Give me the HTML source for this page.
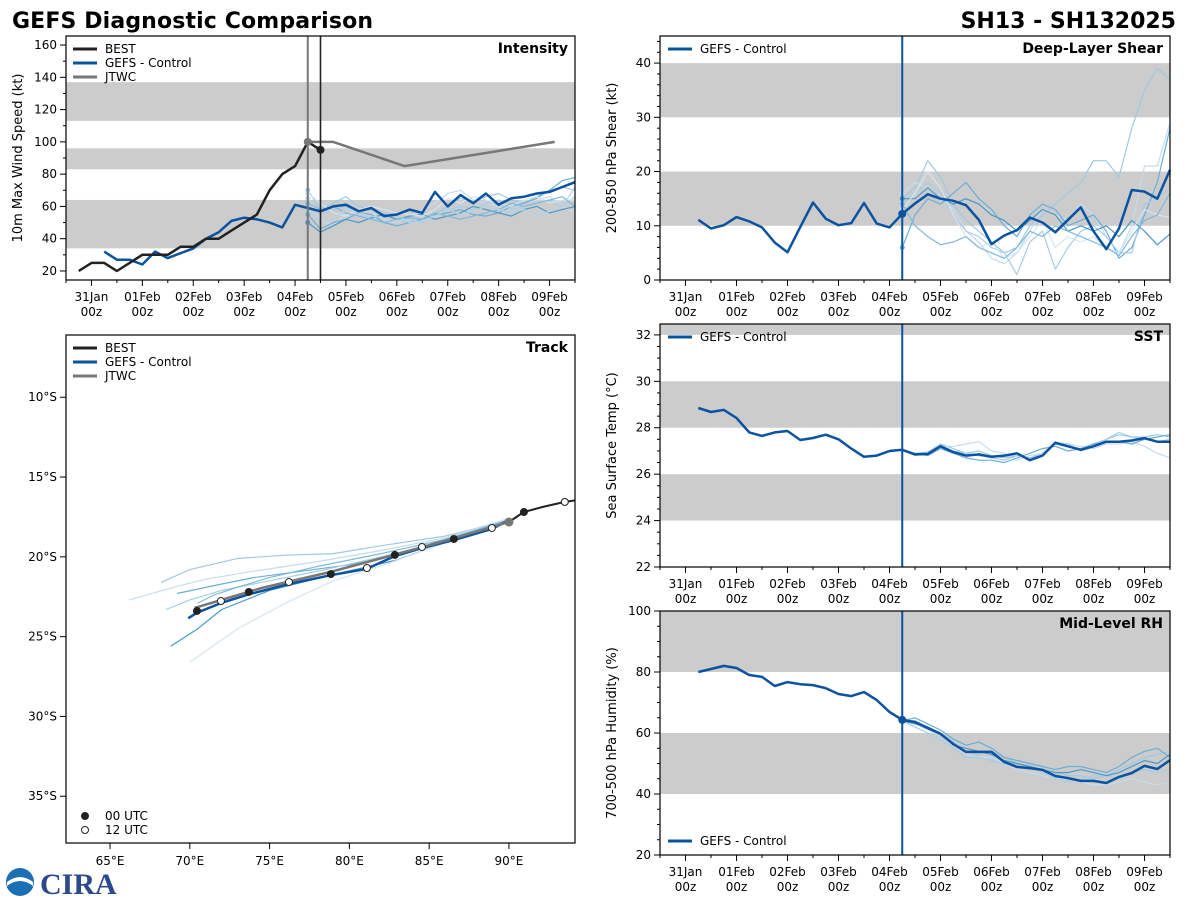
<!DOCTYPE html>
<html><head><meta charset="utf-8">
<style>
html,body{margin:0;padding:0;background:#fff;}
svg{display:block;font-family:"DejaVu Sans","Liberation Sans",sans-serif;}
</style></head>
<body>
<svg id="fig" width="1200" height="900" viewBox="0 0 1200 900" xmlns="http://www.w3.org/2000/svg">
<text x="12" y="28" font-size="22" font-weight="bold" textLength="361">GEFS Diagnostic Comparison</text>
<text x="1176" y="28" font-size="22" font-weight="bold" text-anchor="end">SH13 - SH132025</text>
<g>
<circle cx="20" cy="882" r="14" fill="#1a6fb5"/>
<path d="M7,882 Q20,872 33,882 L33,886 Q20,876 7,886Z" fill="#fff"/>
<text x="40" y="894" font-size="30" font-weight="bold" fill="#2b4a8b" font-family="Liberation Serif,serif">CIRA</text>
</g>
</svg>
<script>
const NS='http://www.w3.org/2000/svg';
const svg=document.getElementById('fig');
// ---------- DATA ----------
const dateLabels=['31Jan','01Feb','02Feb','03Feb','04Feb','05Feb','06Feb','07Feb','08Feb','09Feb'];
const bestStart=-0.25;
const bestInt=[20,25,25,20,25,30,30,30,35,35,40,40,45,50,55,70,80,85,100,95];
const ctrlStart=0.25;
const ctrlInt=[32,27,27,24,32,28,31,34,40,44,51,53,52,50,47,61,59,57,60,61,57,59,54,55,58,56,69,60,67,62,68,61,65,66,68,69,72,75];
const jtwcDays=[4.25,4.75,6.15,9.1];
const jtwcInt=[100,100,85,100];
const ensStart=4.25;
const ensInt=[
[70,58,62,66,60,58,55,52,50,52,55,60,65,62,66,68,64,62,66,70,72,70],
[65,52,48,55,58,56,52,50,54,58,62,68,70,64,62,60,58,62,64,66,60,56],
[55,46,50,52,56,55,50,48,50,52,55,56,58,55,54,56,60,62,65,70,76,78],
[60,55,58,60,54,52,56,54,52,50,56,58,60,58,62,64,58,60,62,64,60,66],
[50,44,48,52,50,53,55,52,54,55,52,54,56,60,58,56,54,58,60,56,58,60],
[68,62,56,54,58,60,58,56,55,54,58,65,62,66,64,62,60,64,66,62,64,64],
[62,58,60,56,54,52,50,52,53,52,56,54,52,54,56,58,62,60,62,64,66,60],
[58,50,52,58,56,54,53,55,50,51,54,58,55,57,60,58,56,58,54,57,60,72]];
const ctrlShear=[11.1,9.5,10.1,11.6,10.8,9.7,6.9,5.1,9.8,14.3,11.3,10.1,10.5,14.2,10.4,9.7,12.2,14.1,15.8,15.0,14.6,13.8,11.1,6.6,8.2,9.2,11.5,10.6,8.8,11.1,13.4,9.0,5.7,9.5,16.6,16.3,15.0,20.3];
const ensShear=[
[15,17,22,19,14,11,9,7,5,6,10,12,14,16,18,22,22,19,28,35,39,37],
[16,18,17,15,13,9,7,4,3,5,9,13,12,11,14,12,8,5,10,21,21,29],
[6,12,15,14,16,18,15,13,10,8,12,14,13,10,11,12,9,4,6,12,18,28],
[14,16,18,16,12,9,8,6,5,1,7,9,2,6,9,10,8,5,5,14,15,17],
[15,15,17,15,14,15,14,12,11,9,11,13,12,9,10,9,10,8,11,9,6.5,8.5],
[13,16,20,17,12,8,6,7,4,5,8,11,6,8,7,8,6,5,9,13,12,11.5],
[14,10,8,6.5,7,8,6,5,4,6,9,8,10,9,8,7,6,4.5,8,11,12,16]];
const ctrlSST=[28.85,28.68,28.77,28.42,27.8,27.65,27.8,27.86,27.47,27.56,27.7,27.5,27.1,26.75,26.8,27.0,27.05,26.85,26.87,27.2,26.95,26.8,26.85,26.75,26.8,26.9,26.6,26.8,27.35,27.2,27.05,27.2,27.4,27.4,27.45,27.55,27.4,27.4];
const ensSST=[
[27.05,26.9,26.95,27.3,27.1,26.9,27.0,26.8,26.7,26.8,26.7,26.9,27.3,27.2,27.1,27.3,27.5,27.7,27.6,27.6,27.7,27.6],
[27.05,26.8,26.9,27.2,27.2,27.3,27.4,27.0,26.9,26.6,26.8,26.9,27.4,27.3,27.2,27.1,27.3,27.3,27.4,27.2,26.9,26.7],
[27.05,26.9,26.8,27.1,26.9,26.7,26.6,26.6,26.5,26.7,26.9,27.1,27.2,27.0,27.1,27.3,27.4,27.4,27.3,27.5,27.6,27.7],
[27.05,26.85,26.9,27.25,27.0,26.9,26.8,26.7,26.6,26.8,26.7,26.8,27.3,27.3,27.0,27.2,27.5,27.8,27.6,27.5,27.4,27.5]];
const ctrlRH=[80,81,82,81.3,79,78.4,75.4,76.7,76,75.7,74.7,72.8,72.1,73.4,70.8,66.9,64.3,63.6,61.6,59.7,56.4,53.8,53.8,53.8,50.5,48.9,48.5,47.9,45.9,45.2,44.3,44.3,43.6,45.6,46.9,49.2,48.2,51.1];
const ensRH=[
[64,64,62,60,57,54,53,54,52,50,49,48,47,46,46,45,46,48,50,52,53,54],
[64,63,61,59,56,53,52,52,50,48,47,46,45,45,44,43,43,44,45,44,43,44],
[64,65,63,61,58,56,57,55,52,51,50,49,48,49,49,48,47,49,52,54,55,52],
[64,62,60,58,55,52,52,51,50,49,49,47,45,44,45,46,46,45,47,48,47,48],
[64,63,62,60,56,55,54,53,51,50,49,48,47,47,48,47,46,47,49,51,50,53]];
const bestTrackLon=[94.2,93.5,92.2,90.94,90.0];
const bestTrackLat=[16.45,16.56,16.85,17.19,17.82];
const ctrlTrackLon=[90.0,88.93,86.55,84.55,82.85,81.1,78.84,76.21,73.7,71.95,70.45,69.9];
const ctrlTrackLat=[17.7,18.25,18.95,19.45,19.95,20.75,21.15,21.7,22.35,22.9,23.5,23.85];
const jtwcTrackLon=[90.0,86.5,82.9,78.8,74.5,70.3];
const jtwcTrackLat=[17.82,18.85,19.85,20.95,21.95,23.2];
const markLon=[88.93,86.55,84.55,82.85,81.1,78.84,76.21,73.7,71.95,70.45];
const markLat=[18.19,18.88,19.38,19.88,20.7,21.08,21.58,22.2,22.77,23.39];
const markFilled=[0,1,0,1,0,1,0,1,0,1];
const ensTrackLon=[
[90,86,82,79,76,73,70,68.2],
[90,86,82,78,74,71,69,66.2],
[90,86,83,80,77,74,71.5,69.2],
[90,86,82,78.5,75,72,70,68.5],
[90,86,83,79,75,72,70.5,68.8],
[90,86,82.5,79,76,73,71,70],
[90,86,82,78,75,73,71.5,70.5]];
const ensTrackLat=[
[17.7,18.7,19.3,19.8,19.9,20.1,20.8,21.6],
[17.6,18.8,19.6,20.3,20.9,21.4,21.9,22.7],
[17.7,18.9,19.9,20.5,20.9,21.3,21.8,22.3],
[17.8,19.0,20.0,20.8,21.5,22.1,22.7,23.3],
[17.8,19.1,20.2,21.1,22.1,23.3,24.5,25.6],
[17.8,19.1,20.4,21.5,22.9,24.5,25.9,26.6],
[17.7,18.9,19.8,20.6,21.3,21.9,22.4,22.9]];
const lonTicks=[65,70,75,80,85,90];
const latTicks=[10,15,20,25,30,35];
// ---------- HELPERS ----------
function el(tag,attrs,parent){const e=document.createElementNS(NS,tag);for(const k in attrs)e.setAttribute(k,attrs[k]);(parent||svg).appendChild(e);return e;}
function lin(d0,d1,r0,r1){return v=>r0+(v-d0)*(r1-r0)/(d1-d0);}
const ensCols=['#9ecae1','#c6dbef','#6baed6','#a6cde6','#4a98c9','#d4e6f4','#7fb8dc','#b3d4ea'];
const CTRL='#0b53a0';
function series(start,vals){return vals.map((v,i)=>[start+i*0.25,v]);}
function pathD(pts,X,Y){return pts.map((p,i)=>(i?'L':'M')+X(p[0]).toFixed(1)+','+Y(p[1]).toFixed(1)).join('');}
function timePanel(cfg){
  const g=el('g',{});
  
  
  const X=lin(-0.5,9.5,cfg.x0,cfg.x1),Y=lin(cfg.ymin,cfg.ymax,cfg.y1,cfg.y0);
  cfg.bands.forEach(b=>{const r=el('rect',{x:cfg.x0,y:Y(Math.min(b[1],cfg.ymax)),width:cfg.x1-cfg.x0,height:Y(b[0])-Y(Math.min(b[1],cfg.ymax)),fill:'#cccccc'},g);
    
    });
  for(let d=-0.5;d<=9.5;d+=0.5){const x=X(d);const major=Math.abs(d-Math.round(d))<1e-6;
    const t=el('line',{x1:x,x2:x,y1:cfg.y1,y2:cfg.y1+(major?6:3),stroke:'#000','stroke-width':1},g);
    
    }
  dateLabels.forEach((lab,i)=>{const x=X(i);
    const a=el('text',{x:x,y:cfg.y1+21,'font-size':12,'text-anchor':'middle'},g);a.textContent=lab;
    
    
    const b=el('text',{x:x,y:cfg.y1+36,'font-size':12,'text-anchor':'middle'},g);b.textContent='00z';
    
    });
  for(let v=Math.ceil(cfg.ymin/cfg.minor)*cfg.minor;v<=cfg.ymax+1e-6;v+=cfg.minor){const y=Y(v);
    const major=Math.abs(v/cfg.major-Math.round(v/cfg.major))<1e-6;
    const t=el('line',{x1:cfg.x0,x2:cfg.x0-(major?6:3),y1:y,y2:y,stroke:'#000'},g);
    
    
    if(major){const l=el('text',{x:cfg.x0-9,y:y+4,'font-size':12,'text-anchor':'end'},g);l.textContent=String(Math.round(v));
      
      }}
  const yt=el('text',{x:0,y:0,'font-size':13,'text-anchor':'middle',transform:`translate(${cfg.x0-44},${(cfg.y0+cfg.y1)/2}) rotate(-90)`},g);yt.textContent=cfg.ytitle;
  
  
  return {g,X,Y};
}
function addLine(g,pts,X,Y,col,w,name){const p=el('path',{d:pathD(pts,X,Y),fill:'none',stroke:col,'stroke-width':w,'stroke-linejoin':'round'},g);
  
  return p;}
function frame(g,cfg){const r=el('rect',{x:cfg.x0,y:cfg.y0,width:cfg.x1-cfg.x0,height:cfg.y1-cfg.y0,fill:'none',stroke:'#000','stroke-width':1.2},g);
  
  }
function title(g,cfg,txt){const t=el('text',{x:cfg.x1-7,y:cfg.y0+17,'font-size':14,'font-weight':'bold','text-anchor':'end'},g);t.textContent=txt;
  
  }
function legend(g,x,y,items){items.forEach((it,i)=>{const yy=y+i*14;
  const l=el('line',{x1:x,x2:x+24,y1:yy,y2:yy,stroke:it[1],'stroke-width':3},g);
  
  
  const t=el('text',{x:x+32,y:yy+4,'font-size':12},g);t.textContent=it[0];
  
  });}
function vline(g,X,cfg,d,col,w){const l=el('line',{x1:X(d),x2:X(d),y1:cfg.y0,y2:cfg.y1,stroke:col,'stroke-width':w},g);
  
  }
function dot(g,x,y,r,col,name){const c=el('circle',{cx:x,cy:y,r:r,fill:col},g);
  
  }
// ---------- INTENSITY ----------
(function(){const cfg={name:'intensity-panel',x0:66,x1:575,y0:36,y1:280,ymin:14.4,ymax:165.6,major:20,minor:10,ytitle:'10m Max Wind Speed (kt)',bands:[[34,64],[83,96],[113,137]]};
 const {g,X,Y}=timePanel(cfg);
 ensInt.forEach((m,i)=>{addLine(g,series(ensStart,m),X,Y,ensCols[i%ensCols.length],1.2,'ensemble-member-intensity');dot(g,X(ensStart),Y(m[0]),2.5,ensCols[i%ensCols.length],'ensemble-start-point');});
 addLine(g,series(ctrlStart,ctrlInt),X,Y,CTRL,2.5,'gefs-control-intensity');
 addLine(g,series(bestStart,bestInt),X,Y,'#222',2.5,'best-track-intensity');
 addLine(g,jtwcDays.map((d,i)=>[d,jtwcInt[i]]),X,Y,'#777',2.5,'jtwc-intensity');
 vline(g,X,cfg,4.25,'#777',2);vline(g,X,cfg,4.5,'#222',1.6);
 dot(g,X(4.25),Y(jtwcInt[0]),4,'#777','jtwc-init-point');
 dot(g,X(4.5),Y(bestInt[bestInt.length-1]),4,'#222','best-last-point');
 frame(g,cfg);title(g,cfg,'Intensity');
 legend(g,73,49,[['BEST','#222'],['GEFS - Control',CTRL],['JTWC','#777']]);})();
// ---------- SHEAR ----------
(function(){const cfg={name:'shear-panel',x0:660,x1:1170,y0:36,y1:280,ymin:0,ymax:45,major:10,minor:2,ytitle:'200-850 hPa Shear (kt)',bands:[[10,20],[30,40]]};
 const {g,X,Y}=timePanel(cfg);
 ensShear.forEach((m,i)=>{addLine(g,series(ensStart,m),X,Y,ensCols[i%ensCols.length],1.2,'ensemble-member-shear');dot(g,X(ensStart),Y(m[0]),2.5,ensCols[i%ensCols.length],'ensemble-start-point');});
 addLine(g,series(ctrlStart,ctrlShear),X,Y,CTRL,2.5,'gefs-control-shear');
 vline(g,X,cfg,4.25,CTRL,2);dot(g,X(4.25),Y(ctrlShear[16]),4,CTRL,'control-init-point');
 frame(g,cfg);title(g,cfg,'Deep-Layer Shear');legend(g,668,49,[['GEFS - Control',CTRL]]);})();
// ---------- SST ----------
(function(){const cfg={name:'sst-panel',x0:660,x1:1170,y0:324,y1:567,ymin:22,ymax:32.47,major:2,minor:0.5,ytitle:'Sea Surface Temp (°C)',bands:[[24,26],[28,30],[32,33]]};
 const {g,X,Y}=timePanel(cfg);
 ensSST.forEach((m,i)=>addLine(g,series(ensStart,m),X,Y,ensCols[i%ensCols.length],1.2,'ensemble-member-sst'));
 addLine(g,series(ctrlStart,ctrlSST),X,Y,CTRL,2.5,'gefs-control-sst');
 vline(g,X,cfg,4.25,CTRL,2);
 frame(g,cfg);title(g,cfg,'SST');legend(g,668,337,[['GEFS - Control',CTRL]]);})();
// ---------- RH ----------
(function(){const cfg={name:'rh-panel',x0:660,x1:1170,y0:611,y1:855,ymin:20,ymax:100,major:20,minor:5,ytitle:'700-500 hPa Humidity (%)',bands:[[40,60],[80,100]]};
 const {g,X,Y}=timePanel(cfg);
 ensRH.forEach((m,i)=>addLine(g,series(ensStart,m),X,Y,ensCols[i%ensCols.length],1.2,'ensemble-member-rh'));
 addLine(g,series(ctrlStart,ctrlRH),X,Y,CTRL,2.5,'gefs-control-rh');
 vline(g,X,cfg,4.25,CTRL,2);dot(g,X(4.25),Y(ctrlRH[16]),4,CTRL,'control-init-point');
 frame(g,cfg);title(g,cfg,'Mid-Level RH');legend(g,668,841,[['GEFS - Control',CTRL]]);})();
// ---------- TRACK ----------
(function(){const cfg={x0:66,x1:575,y0:335,y1:843};
 const g=el('g',{});
 
 
 const X=lin(62.24,94.14,cfg.x0,cfg.x1),Y=lin(6.1,37.93,cfg.y0,cfg.y1);
 const cp=el('clipPath',{id:'trk'},g);el('rect',{x:cfg.x0,y:cfg.y0,width:cfg.x1-cfg.x0,height:cfg.y1-cfg.y0},cp);
 const inner=el('g',{'clip-path':'url(#trk)'},g);
 
 
 const tp=(lons,lats)=>lons.map((l,i)=>[l,lats[i]]);
 ensTrackLon.forEach((lo,i)=>addLine(inner,tp(lo,ensTrackLat[i]),X,Y,ensCols[i%ensCols.length],1.2,'ensemble-member-track'));
 addLine(inner,tp(ctrlTrackLon,ctrlTrackLat),X,Y,CTRL,2.5,'gefs-control-track');
 addLine(inner,tp(jtwcTrackLon,jtwcTrackLat),X,Y,'#777',2.5,'jtwc-track');
 addLine(inner,tp(bestTrackLon,bestTrackLat),X,Y,'#222',2,'best-track');
 markLon.forEach((lo,i)=>{const c=el('circle',{cx:X(lo),cy:Y(markLat[i]),r:3.5,fill:markFilled[i]?'#222':'#fff',stroke:'#222','stroke-width':1},inner);
   
   });
 [[1,3],[0,1]].forEach(p=>{const c=el('circle',{cx:X(bestTrackLon[p[1]]),cy:Y(bestTrackLat[p[1]]),r:3.5,fill:p[0]?'#222':'#fff',stroke:'#222'},inner);
   
   });
 dot(inner,X(90.0),Y(17.82),4.5,'#777','track-init-point');
 lonTicks.forEach(l=>{const x=X(l);const t=el('line',{x1:x,x2:x,y1:cfg.y1,y2:cfg.y1+6,stroke:'#000'},g);
   
   
   const s=el('text',{x:x,y:cfg.y1+22,'font-size':12,'text-anchor':'middle'},g);s.textContent=l+'°E';
   
   });
 latTicks.forEach(l=>{const y=Y(l);const t=el('line',{x1:cfg.x0,x2:cfg.x0-6,y1:y,y2:y,stroke:'#000'},g);
   
   
   const s=el('text',{x:cfg.x0-9,y:y+4,'font-size':12,'text-anchor':'end'},g);s.textContent=l+'°S';
   
   });
 frame(g,cfg);title(g,cfg,'Track');
 legend(g,73,348,[['BEST','#222'],['GEFS - Control',CTRL],['JTWC','#777']]);
 [['00 UTC',1],['12 UTC',0]].forEach((it,i)=>{const y=816+i*14;
   const c=el('circle',{cx:85,cy:y,r:3.5,fill:it[1]?'#222':'#fff',stroke:'#222'},g);
   
   
   const t=el('text',{x:105,y:y+4,'font-size':12},g);t.textContent=it[0];
   
   });})();
</script>
</body></html>
